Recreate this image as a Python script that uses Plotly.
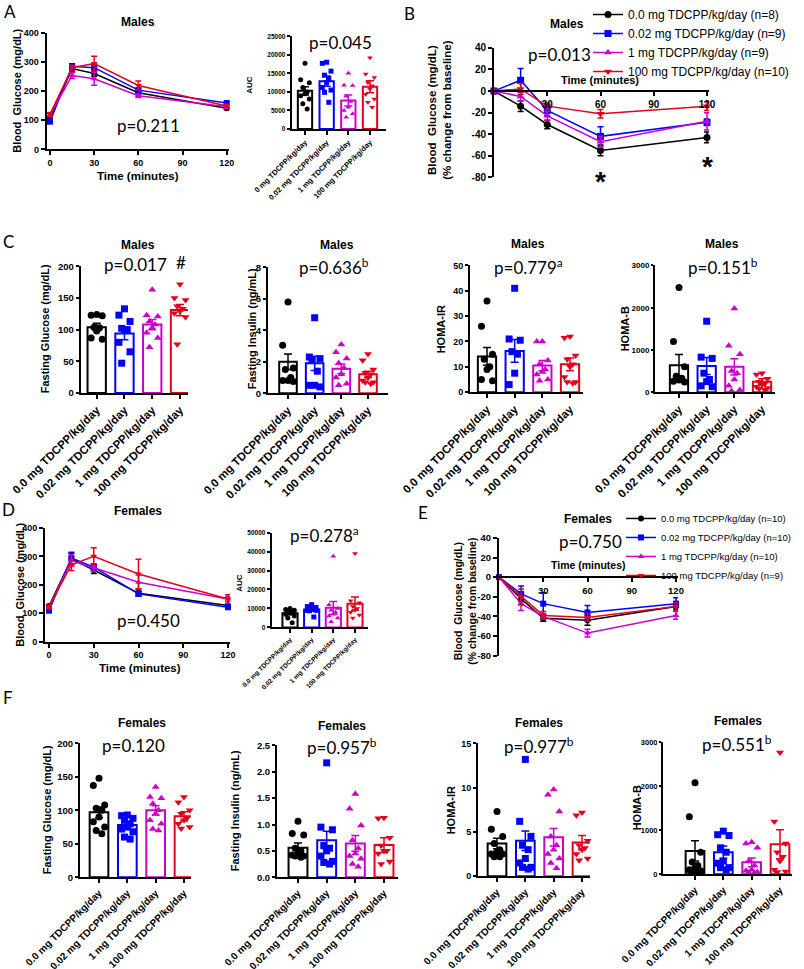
import numpy as np
import plotly.graph_objects as go

W, H = 804, 969
FONT = "Liberation Sans, Arial, sans-serif"
PFONT = "Lato, sans-serif"

COLORS = ["#000000", "#0000ff", "#cc00cc", "#e3001b"]
SYMBOLS = ["circle", "square", "triangle-up", "triangle-down"]

# ---------------- labels ----------------
dose_labels = ["0.0 mg TDCPP/kg/day", "0.02 mg TDCPP/kg/day", "1 mg TDCPP/kg/day", "100 mg TDCPP/kg/day"]
auc_labels_m = ["0 mg TDCPP/kg/day", "0.02 mg TDCPP/kg/day", "1 mg TDCPP/kg/day", "100 mg TDCPP/kg/day"]
legend_m = ["0.0 mg TDCPP/kg/day (n=8)", "0.02 mg TDCPP/kg/day (n=9)",
            "1 mg TDCPP/kg/day (n=9)", "100 mg TDCPP/kg/day (n=10)"]
legend_f = ["0.0 mg TDCPP/kg/day (n=10)", "0.02 mg TDCPP/kg/day (n=10)",
            "1 mg TDCPP/kg/day (n=10)", "100 mg TDCPP/kg/day (n=9)"]
times = [0, 15, 30, 60, 120]
time_ticks = [0, 30, 60, 90, 120]

# ---------------- Panel A: males GTT ----------------
gtt_m_mean = [[107, 277, 260, 194, 141],
              [95, 285, 280, 203, 159],
              [118, 253, 242, 184, 146],
              [120, 280, 294, 219, 149]]
gtt_m_sem = [[5, 8, 10, 6, 5],
             [5, 8, 12, 7, 5],
             [6, 10, 22, 6, 5],
             [6, 8, 25, 15, 6]]
auc_m_mean = [10300, 12900, 7700, 11400]
auc_m_sem = [1100, 1400, 1500, 1600]
auc_m_pts = [[17700, 13300, 12500, 11200, 10000, 9000, 8100, 6800, 5400, 9500],
             [18000, 17700, 15600, 13600, 12500, 11200, 9900, 7200, 10500, 14500],
             [15000, 11800, 11700, 8800, 7400, 5900, 5000, 4100, 3200],
             [19200, 14800, 13900, 12550, 11650, 10800, 9400, 8100, 5900, 7200]]

# ---------------- Panel B: males % change ----------------
pct_m_mean = [[0, -14, -31, -55, -43],
              [0, 10, -18, -42, -29],
              [0, -5, -23, -47, -28],
              [0, 2, -14, -21, -14]]
pct_m_sem = [[0, 5, 4, 5, 5],
             [0, 11, 5, 9, 3],
             [0, 4, 4, 5, 8],
             [0, 5, 3, 4, 4]]

# ---------------- Panel C: males fasting ----------------
glu_m_mean = [104, 94, 108, 131]
glu_m_sem = [6, 10, 8, 9]
glu_m_pts = [[122, 123, 124, 104, 103, 98, 87, 85],
             [133, 123, 113, 102, 100, 99, 80, 65, 47],
             [163, 123, 121, 113, 108, 103, 95, 87, 72],
             [172, 150, 147, 137, 133, 129, 126, 120, 77]]
ins_m_mean = [2.0, 1.9, 1.55, 1.2]
ins_m_sem = [0.5, 0.45, 0.3, 0.2]
ins_m_pts = [[5.8, 3.05, 1.6, 1.5, 1.0, 0.8, 0.75, 0.8],
             [4.8, 2.3, 2.2, 2.1, 1.4, 0.5, 0.5, 0.4],
             [3.1, 2.6, 2.2, 1.9, 1.6, 1.2, 1.0, 0.6, 0.5],
             [2.5, 2.1, 1.5, 1.3, 1.2, 1.0, 0.8, 0.7, 0.6, 0.7]]
hir_m_mean = [14.1, 16.3, 10.5, 11.0]
hir_m_sem = [3.5, 4.5, 2.0, 2.5]
hir_m_pts = [[36, 26, 15, 13, 10, 9, 5, 4.5],
             [41, 21, 20.5, 16, 15, 7.5, 3],
             [20, 20, 12.5, 11, 9, 8, 7, 5, 4.5],
             [22, 21.5, 14.5, 13, 11, 10, 6, 4, 3.5, 4]]
hb_m_mean = [640, 620, 600, 250]
hb_m_sem = [250, 200, 190, 70]
hb_m_pts = [[2480, 1200, 600, 380, 330, 290, 260, 240],
            [1680, 830, 800, 450, 300, 250, 150, 130],
            [1980, 1100, 900, 500, 450, 300, 150, 50, 30],
            [450, 420, 320, 250, 200, 180, 130, 100, 80, 60]]

# ---------------- Panel D: females GTT ----------------
gtt_f_mean = [[125, 291, 252, 170, 127],
              [109, 294, 262, 168, 121],
              [121, 285, 260, 209, 150],
              [123, 270, 300, 238, 150]]
gtt_f_sem = [[5, 20, 12, 8, 6],
             [5, 20, 12, 8, 6],
             [5, 20, 12, 25, 8],
             [5, 20, 30, 52, 15]]
auc_f_mean = [7500, 9500, 10300, 12500]
auc_f_sem = [700, 600, 3300, 3500]
auc_f_pts = [[10000, 9500, 9000, 8500, 8000, 7500, 7000, 6000, 5000, 2500],
             [12000, 11000, 10500, 10000, 9800, 9500, 9000, 8800, 5500, 9000],
             [37500, 12000, 10000, 9000, 8000, 7000, 5000, 3000, 6000],
             [39000, 14000, 13000, 11000, 10000, 9000, 8000, 6500, 5000]]

# ---------------- Panel E: females % change ----------------
pct_f_mean = [[0, -22, -42, -44, -30],
              [0, -17, -27, -36, -27],
              [0, -27, -40, -57, -39],
              [0, -20, -39, -41, -30]]
pct_f_sem = [[0, 6, 3, 5, 3],
             [0, 8, 11, 7, 6],
             [0, 7, 3, 4, 4],
             [0, 8, 4, 4, 4]]

# ---------------- Panel F: females fasting ----------------
glu_f_mean = [97, 78, 100, 91]
glu_f_sem = [8, 4, 7, 7]
glu_f_pts = [[148, 137, 108, 103, 100, 90, 83, 75, 65, 70],
             [93, 92, 88, 85, 80, 75, 72, 68, 60, 57],
             [135, 120, 118, 110, 100, 95, 85, 80, 72, 70],
             [120, 112, 100, 95, 88, 85, 75, 73, 80]]
ins_f_mean = [0.56, 0.70, 0.64, 0.61]
ins_f_sem = [0.09, 0.17, 0.15, 0.14]
ins_f_pts = [[1.06, 0.83, 0.80, 0.55, 0.50, 0.45, 0.42, 0.40, 0.40, 0.38],
             [2.17, 0.95, 0.90, 0.60, 0.55, 0.50, 0.40, 0.30, 0.28, 0.25],
             [1.58, 1.30, 0.98, 0.70, 0.55, 0.45, 0.40, 0.35, 0.25, 0.20],
             [1.13, 1.12, 0.75, 0.60, 0.50, 0.45, 0.30, 0.25, 0.50]]
hir_f_mean = [3.7, 4.0, 4.4, 3.8]
hir_f_sem = [0.6, 1.1, 1.0, 0.8]
hir_f_pts = [[7.3, 5.3, 4.5, 3.7, 3.0, 2.8, 2.5, 2.2, 2.2, 2.5],
             [13.2, 6.2, 4.5, 3.5, 3.0, 2.0, 1.5, 1.0, 0.8, 1.0],
             [9.8, 9.2, 7.3, 4.5, 3.5, 3.0, 2.5, 2.0, 1.5, 0.9],
             [7.2, 6.9, 4.0, 3.5, 3.0, 2.5, 2.0, 1.8, 3.2]]
hb_f_mean = [530, 500, 270, 680]
hb_f_sem = [230, 140, 100, 330]
hb_f_pts = [[2080, 1310, 500, 280, 150, 100, 80, 60, 50, 200],
            [980, 900, 880, 600, 500, 300, 250, 150, 100, 150],
            [730, 700, 600, 300, 200, 100, 80, 50, 30, 40],
            [2770, 1200, 700, 500, 400, 300, 100, 60, 50]]

# =====================================================================
fig = go.Figure()
layout = {}
ann = []
count = [0]


def new_axes(px0, px1, ptop, pbot, xr, yr):
    count[0] += 1
    n = count[0]
    sfx = "" if n == 1 else str(n)
    xref, yref = "x" + sfx, "y" + sfx
    base = dict(showline=True, linecolor="black", linewidth=2, ticks="outside",
                tickcolor="black", tickwidth=2, ticklen=4, showgrid=False,
                zeroline=False, automargin=False,
                tickfont=dict(family=FONT, size=9, color="black", weight="bold"))
    layout["xaxis" + sfx] = dict(base, domain=[px0 / W, px1 / W], range=xr, anchor=yref)
    layout["yaxis" + sfx] = dict(base, domain=[1 - pbot / H, 1 - ptop / H], range=yr, anchor=xref)
    return xref, yref, "xaxis" + sfx, "yaxis" + sfx


def text(x, y, s, size, family=FONT, bold=False, angle=0, xanchor="center"):
    ann.append(dict(x=x / W, y=1 - y / H, xref="paper", yref="paper",
                    text=("<b>" + s + "</b>") if bold else s, showarrow=False,
                    font=dict(family=family, size=size, color="black"),
                    textangle=angle, xanchor=xanchor, yanchor="middle"))


JIT = [0.0, -0.2, 0.2, -0.1, 0.1, 0.0, -0.2, 0.2, -0.1, 0.1]


def jitter(vals, scale):
    order = np.argsort(-np.asarray(vals, dtype=float), kind="stable")
    off = np.zeros(len(vals))
    for rank, idx in enumerate(order):
        off[idx] = JIT[rank % len(JIT)] * scale
    return off


def bar_panel(L, c0, c3, R, ptop, pbot, yr, ytv, means, sems, pts, labels,
              ytext=None, tfs=9, cfs=11.5, msize=7, bw=0.66, scale=1.0, ytl=3):
    s = (c3 - c0) / 3
    xr = [(L - c0) / s, (R - c0) / s]
    xref, yref, xa, ya = new_axes(L, R, ptop, pbot, xr, yr)
    layout[xa].update(tickvals=[0, 1, 2, 3], ticktext=labels, tickangle=-45,
                      tickfont=dict(family=FONT, size=cfs, color="black", weight="bold"))
    layout[ya].update(tickvals=ytv, ticktext=ytext if ytext else [str(v) for v in ytv],
                      ticklen=ytl,
                      tickfont=dict(family=FONT, size=tfs, color="black", weight="bold"))
    for i in range(4):
        fig.add_trace(go.Bar(x=[i], y=[means[i]], width=bw, xaxis=xref, yaxis=yref,
                             marker=dict(color="white", line=dict(color=COLORS[i], width=2)),
                             error_y=dict(type="data", array=[sems[i]], color=COLORS[i],
                                          thickness=1.5, width=4),
                             showlegend=False, hoverinfo="skip"))
    for i in range(4):
        xs = i + jitter(pts[i], scale)
        fig.add_trace(go.Scatter(x=xs, y=pts[i], mode="markers", xaxis=xref, yaxis=yref,
                                 marker=dict(symbol=SYMBOLS[i], color=COLORS[i], size=msize,
                                             line=dict(width=0)),
                                 cliponaxis=False, showlegend=False))


def line_panel(x0px, x120px, Lpx, Rpx, ptop, pbot, yr, ytv, means, sems, names, legend,
               zero_axis=False, tfs=9, msize=6):
    ppu = (x120px - x0px) / 120
    xr = [(Lpx - x0px) / ppu, (Rpx - x0px) / ppu]
    xref, yref, xa, ya = new_axes(Lpx, Rpx, ptop, pbot, xr, yr)
    tv = time_ticks[1:] if zero_axis else time_ticks
    layout[xa].update(tickvals=tv, ticktext=[str(t) for t in tv],
                      tickfont=dict(family=FONT, size=tfs, color="black", weight="bold"))
    layout[ya].update(tickvals=ytv, ticktext=[str(v) for v in ytv],
                      tickfont=dict(family=FONT, size=tfs, color="black", weight="bold"))
    if zero_axis:
        frac = (0 - yr[0]) / (yr[1] - yr[0])
        ypos = layout[ya]["domain"][0] + frac * (layout[ya]["domain"][1] - layout[ya]["domain"][0])
        layout[xa].update(anchor="free", position=ypos)
    for i in range(4):
        fig.add_trace(go.Scatter(x=times, y=means[i], mode="lines+markers", xaxis=xref, yaxis=yref,
                                 line=dict(color=COLORS[i], width=1.5),
                                 marker=dict(symbol=SYMBOLS[i], color=COLORS[i], size=msize),
                                 error_y=dict(type="data", array=sems[i], color=COLORS[i],
                                              thickness=1.5, width=3),
                                 name=names[i] if names else None,
                                 showlegend=bool(names), legend=legend,
                                 cliponaxis=False))


# ---------- Panel A ----------
line_panel(50, 226.7, 46.7, 229, 30.7, 147.7, [0, 400], [0, 100, 200, 300, 400],
           gtt_m_mean, gtt_m_sem, None, "legend")
bar_panel(291.7, 305, 370, 386, 34.3, 127.3, [0, 25000], [0, 5000, 10000, 15000, 20000, 25000],
          auc_m_mean, auc_m_sem, auc_m_pts, auc_labels_m, tfs=6.5, cfs=7.5, msize=5, bw=0.66)
# ---------- Panel B ----------
line_panel(494, 707, 494, 709, 46, 175.7, [-80, 40], [-80, -60, -40, -20, 0, 20, 40],
           pct_m_mean, pct_m_sem, legend_m, "legend", zero_axis=True, tfs=10, msize=7)
# ---------- Panel C ----------
bar_panel(80.7, 96.7, 180, 188, 265, 391.7, [0, 200], [0, 50, 100, 150, 200],
          glu_m_mean, glu_m_sem, glu_m_pts, dose_labels, tfs=9.5)
bar_panel(268, 288, 368, 388, 266, 392, [0, 8], [0, 2, 4, 6, 8],
          ins_m_mean, ins_m_sem, ins_m_pts, dose_labels, tfs=9.5)
bar_panel(470, 487, 570, 583, 264, 391, [0, 50], [0, 10, 20, 30, 40, 50],
          hir_m_mean, hir_m_sem, hir_m_pts, dose_labels, tfs=9)
bar_panel(655, 679, 762, 775, 264, 391, [0, 3000], [0, 1000, 2000, 3000],
          hb_m_mean, hb_m_sem, hb_m_pts, dose_labels, tfs=8, ytl=2)
# ---------- Panel D ----------
line_panel(49, 228, 45, 230, 527, 641, [0, 400], [0, 100, 200, 300, 400],
           gtt_f_mean, gtt_f_sem, None, "legend")
bar_panel(271.7, 290, 355, 368, 531.7, 626.7, [0, 50000], [0, 10000, 20000, 30000, 40000, 50000],
          auc_f_mean, auc_f_sem, auc_f_pts, dose_labels, tfs=6.5, cfs=6.5, msize=5, bw=0.7)
# ---------- Panel E ----------
line_panel(499, 676, 499, 678, 537, 655, [-80, 40], [-80, -60, -40, -20, 0, 20, 40],
           pct_f_mean, pct_f_sem, legend_f, "legend2", zero_axis=True, tfs=9.5, msize=6)
# ---------- Panel F ----------
bar_panel(80, 99, 184, 191, 743, 877, [0, 200], [0, 50, 100, 150, 200],
          glu_f_mean, glu_f_sem, glu_f_pts, dose_labels, tfs=9.5, cfs=10)
bar_panel(277, 298, 384, 398, 745, 877, [0, 2.5], [0, 0.5, 1.0, 1.5, 2.0, 2.5],
          ins_f_mean, ins_f_sem, ins_f_pts, dose_labels, tfs=9.5, cfs=10,
          ytext=["0.0", "0.5", "1.0", "1.5", "2.0", "2.5"])
bar_panel(478, 497, 582, 590, 743, 876, [0, 15], [0, 5, 10, 15],
          hir_f_mean, hir_f_sem, hir_f_pts, dose_labels, tfs=9, cfs=10)
bar_panel(663, 695, 780, 792, 742, 874, [0, 3000], [0, 1000, 2000, 3000],
          hb_f_mean, hb_f_sem, hb_f_pts, dose_labels, tfs=7.5, ytl=2, cfs=10)

# ---------------- annotations ----------------
for lab, x, y in [("A", 10, 10), ("B", 409, 12), ("C", 8, 240), ("D", 8, 509), ("E", 423, 512), ("F", 8, 697)]:
    text(x, y, lab, 17, family=PFONT)

for s, x, y in [("Males", 138, 20), ("Males", 567, 22),
                ("Males", 138, 244), ("Males", 337, 244), ("Males", 528, 243), ("Males", 722, 243),
                ("Females", 138, 510), ("Females", 588, 518),
                ("Females", 142, 722), ("Females", 342, 725), ("Females", 539, 722), ("Females", 738, 720)]:
    text(x, y, s, 12, bold=True)

for s, x, y in [("p=0.211", 115, 124), ("p=0.045", 307, 41), ("p=0.013", 526, 53),
                ("p=0.017", 102, 263), ("p=0.636<sup>b</sup>", 297, 265),
                ("p=0.779<sup>a</sup>", 492, 265), ("p=0.151<sup>b</sup>", 686, 265),
                ("p=0.450", 115, 620), ("p=0.278<sup>a</sup>", 288, 534), ("p=0.750", 557, 541),
                ("p=0.120", 100, 745), ("p=0.957<sup>b</sup>", 305, 746),
                ("p=0.977<sup>b</sup>", 502, 745), ("p=0.551<sup>b</sup>", 700, 743)]:
    text(x, y, s, 17, family=PFONT, xanchor="left")
text(181, 261, "#", 17, family=PFONT)
text(600, 180, "*", 28, bold=True)
text(707, 165, "*", 28, bold=True)

text(17, 89, "Blood  Glucose (mg/dL)", 11, bold=True, angle=-90)
text(138, 174, "Time (minutes)", 11.5, bold=True)
text(250, 83, "AUC", 8, bold=True, angle=-90)
text(440, 108, "Blood  Glucose (mg/dL)<br>(% change from baseline)", 11.5, bold=True, angle=-90)
text(600, 78, "Time (minutes)", 11, bold=True)
text(45, 328, "Fasting Glucose (mg/dL)", 11, bold=True, angle=-90)
text(252, 328, "Fasting Insulin (ng/mL)", 11, bold=True, angle=-90)
text(441, 328, "HOMA-IR", 11, bold=True, angle=-90)
text(625, 328, "HOMA-B", 11, bold=True, angle=-90)
text(20, 584, "Blood  Glucose (mg/dL)", 11, bold=True, angle=-90)
text(140, 667, "Time (minutes)", 11.5, bold=True)
text(240, 582, "AUC", 8, bold=True, angle=-90)
text(465, 600, "Blood  Glucose (mg/dL)<br>(% change from baseline)", 10.5, bold=True, angle=-90)
text(588, 564, "Time (minutes)", 10.5, bold=True)
text(47, 810, "Fasting Glucose (mg/dL)", 11, bold=True, angle=-90)
text(235, 810, "Fasting Insulin (ng/mL)", 11, bold=True, angle=-90)
text(451, 810, "HOMA-IR", 11, bold=True, angle=-90)
text(637, 808, "HOMA-B", 11, bold=True, angle=-90)

layout.update(
    width=W, height=H, autosize=False,
    margin=dict(l=0, r=0, t=0, b=0),
    paper_bgcolor="white", plot_bgcolor="white",
    barmode="overlay",
    annotations=ann,
    legend=dict(x=588 / W, y=1 + 2 / H, xanchor="left", yanchor="top",
                font=dict(family=FONT, size=12, color="black"), bgcolor="rgba(0,0,0,0)",
                tracegroupgap=0),
    legend2=dict(x=621 / W, y=1 - 503 / H, xanchor="left", yanchor="top",
                 font=dict(family=FONT, size=9.5, color="black"), bgcolor="rgba(0,0,0,0)",
                 tracegroupgap=0),
)
fig.update_layout(**layout)
fig.write_html("out.html", post_script="document.body.style.margin='0px';",
               config={"displayModeBar": False})
